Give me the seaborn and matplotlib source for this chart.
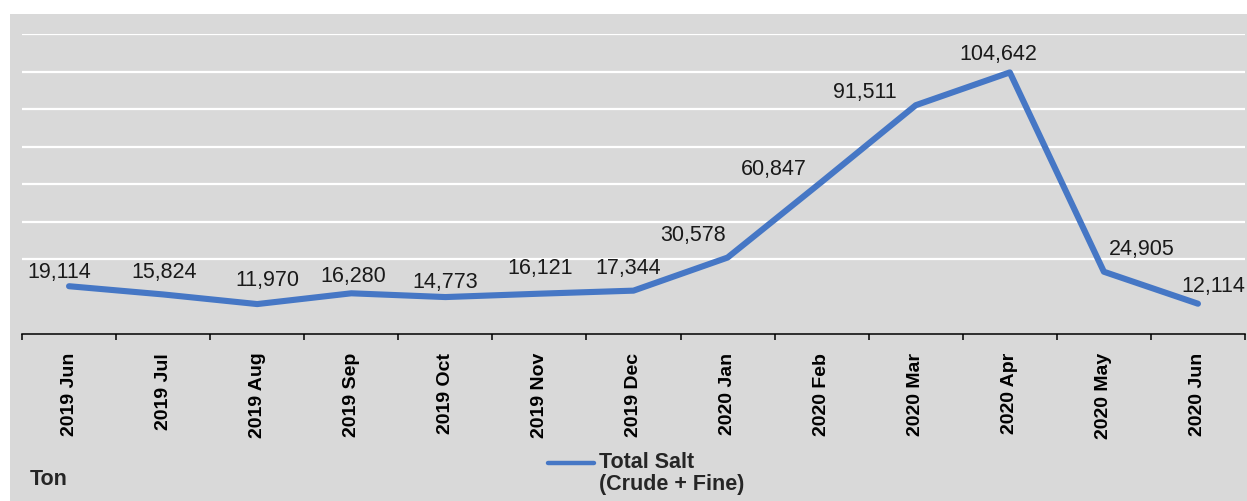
"""Monthly total salt volume (ton), Jun 2019 - Jun 2020."""

import matplotlib

matplotlib.use("Agg")
import matplotlib.pyplot as plt
import numpy as np
import pandas as pd
import seaborn as sns
from matplotlib.lines import Line2D
from matplotlib.patches import Rectangle

months = [
    "2019 Jun", "2019 Jul", "2019 Aug", "2019 Sep", "2019 Oct", "2019 Nov",
    "2019 Dec", "2020 Jan", "2020 Feb", "2020 Mar", "2020 Apr", "2020 May",
    "2020 Jun",
]
total_salt = [
    19114, 15824, 11970, 16280, 14773, 16121,
    17344, 30578, 60847, 91511, 104642, 24905,
    12114,
]
series_label = "Total Salt\n(Crude + Fine)"
unit_label = "Ton"

# label offsets from each point, in pixels (hand placed like the source)
label_offsets = [
    (-10, 14), (1, 22), (10, 24), (2, 17), (0, 15), (1, 25), (-5, 22),
    (-35, 22), (-48, 12), (-51, 13), (-11, 18), (38, 22), (15, 17),
]

LINE_COLOR = "#4677c5"
BG = "#d9d9d9"
W, H = 1247, 501

sns.set_style("white")
plt.rcParams["font.family"] = ["Liberation Sans", "DejaVu Sans"]

df = pd.DataFrame({"month": months, "tons": total_salt})

fig = plt.figure(figsize=(W / 100, H / 100), dpi=100, facecolor="white")
fig.patches.append(
    Rectangle((10 / W, 0), 1 - 10 / W, 1 - 14 / H, transform=fig.transFigure,
              facecolor=BG, edgecolor="none", zorder=-10)
)
ax = fig.add_axes([22 / W, 167 / H, 1223 / W, 300 / H])
ax.set_facecolor("none")

sns.lineplot(
    data=df, x="month", y="tons", ax=ax, color=LINE_COLOR, linewidth=4.4,
    sort=False, solid_joinstyle="round", solid_capstyle="round", zorder=3,
)

for i, (m, v) in enumerate(zip(months, total_salt)):
    dx, dy = label_offsets[i]
    ax.annotate(
        f"{v:,}", (i, v), textcoords="offset pixels", xytext=(dx, dy),
        ha="center", va="center", fontsize=15.5, color="#1a1a1a",
        annotation_clip=False, zorder=4,
    )

ax.set_xlim(-0.5, len(months) - 0.5)
ax.set_ylim(0, 120000)
ax.set_yticks(np.arange(30000, 120001, 15000))
ax.set_yticklabels([])
ax.tick_params(axis="y", length=0)
ax.grid(True, axis="y", color="white", linewidth=1.6)
ax.set_axisbelow(True)

ax.set_xticks(range(len(months)))
ax.set_xticklabels(months, rotation=90, fontweight="bold", fontsize=14)
ax.set_xticks(np.arange(-0.5, len(months), 1), minor=True)
ax.tick_params(axis="x", which="both", bottom=True)
ax.tick_params(axis="x", which="major", length=0, pad=13.5, colors="black")
ax.tick_params(axis="x", which="minor", length=4, width=1.1, color="black",
               direction="out")
ax.set_xlabel("")
ax.set_ylabel("")
for side in ("top", "left", "right"):
    ax.spines[side].set_visible(False)
ax.spines["bottom"].set_color("black")
ax.spines["bottom"].set_linewidth(1.1)

# legend glyph and text
fig.add_artist(Line2D([548 / W, 594 / W], [1 - 463 / H, 1 - 463 / H],
                      transform=fig.transFigure, color=LINE_COLOR, linewidth=3.2))
fig.text(599 / W, 1 - 452 / H, series_label, ha="left", va="top",
         fontsize=15.5, fontweight="bold", linespacing=1.05)
fig.text(30 / W, 1 - 485 / H, unit_label, ha="left", va="baseline",
         fontsize=15.5, fontweight="bold")

fig.savefig("out.png", dpi=100, facecolor=fig.get_facecolor())
